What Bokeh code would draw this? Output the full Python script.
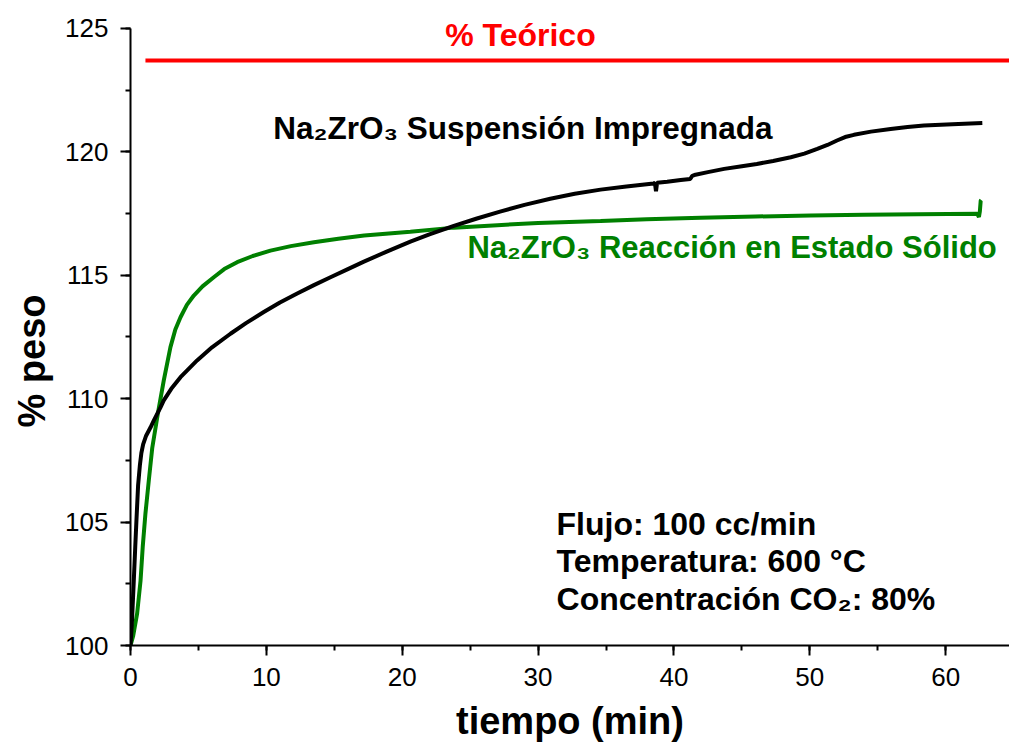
from bokeh.plotting import figure
from bokeh.models import Range1d, SingleIntervalTicker, Label, Title
from bokeh.embed import file_html
from bokeh.resources import INLINE

# ---- data ----
t_black = [0, 0.1, 0.24, 0.35, 0.44, 0.56, 0.69, 0.8, 0.93, 1.15, 1.47, 1.72, 2.2, 2.45, 3.0,
           3.68, 4.3, 4.9, 6.0, 7.36, 8.5, 9.81, 11.0, 12.27, 13.5, 14.72, 16.0, 17.18, 18.9,
           20.6, 22.0, 23.8, 25.5, 27.2, 29.0, 30.9, 32.7, 34.6, 36.5, 38.5, 38.6, 38.68, 38.76,
           39.5, 40.5, 41.2, 41.35, 41.5, 42.5, 43.7, 45.0, 46.1, 47.3, 48.6, 49.6, 50.55, 51.3,
           52.0, 52.6, 53.25, 54.5, 55.95, 57.2, 58.4, 60.5, 62.7]
w_black = [100, 100.9, 102.6, 104.0, 105.1, 106.5, 107.3, 107.8, 108.15, 108.5, 108.83, 109.12,
           109.64, 109.93, 110.4, 110.87, 111.22, 111.55, 112.08, 112.63, 113.06, 113.51, 113.9,
           114.26, 114.6, 114.92, 115.25, 115.55, 115.97, 116.36, 116.66, 117.0, 117.3, 117.58,
           117.85, 118.1, 118.3, 118.47, 118.6, 118.72, 118.74, 118.4, 118.75, 118.79, 118.86,
           118.9, 119.03, 119.06, 119.18, 119.31, 119.42, 119.51, 119.63, 119.78, 119.93, 120.12,
           120.28, 120.46, 120.6, 120.69, 120.82, 120.93, 121.01, 121.07, 121.12, 121.17]

t_green = [0, 0.2, 0.49, 0.74, 0.9, 1.1, 1.35, 1.6, 2.0, 2.45, 2.94, 3.3, 3.68, 4.15, 4.66, 5.3,
           6.13, 6.9, 7.85, 9.0, 10.3, 11.8, 13.5, 15.3, 17.2, 20.6, 23.8, 27.0, 30.0, 34.6, 38.0,
           41.96, 46.0, 50.06, 54.0, 58.0, 62.33, 62.45, 62.52, 62.58, 62.62]
w_green = [100, 100.4, 101.3, 102.63, 104.0, 105.35, 106.7, 108.0, 109.35, 110.74, 112.09, 112.8,
           113.3, 113.8, 114.18, 114.55, 114.92, 115.25, 115.53, 115.78, 116.0, 116.18, 116.34,
           116.48, 116.61, 116.76, 116.93, 117.03, 117.12, 117.2, 117.27, 117.33, 117.38, 117.42,
           117.45, 117.47, 117.49, 117.36, 117.6, 118.02, 118.05]

t_theoretical = [1.1, 66.0]
w_theoretical = [123.7, 123.7]

x_ticks_interval = 10
y_ticks_interval = 5

FONT = "Liberation Sans"

p = figure(width=1009, height=744, x_range=Range1d(0, 64.7), y_range=Range1d(100, 125.97),
           output_backend="svg", toolbar_location=None,
           min_border_left=130, min_border_right=0, min_border_top=4, min_border_bottom=99)
p.outline_line_color = None
p.xgrid.visible = False
p.ygrid.visible = False
p.background_fill_color = "white"
p.border_fill_color = "white"

p.xaxis.ticker = SingleIntervalTicker(interval=x_ticks_interval, num_minor_ticks=2)
p.yaxis.ticker = SingleIntervalTicker(interval=y_ticks_interval, num_minor_ticks=2)
p.yaxis.bounds = (100, 125)
for ax in (p.xaxis, p.yaxis):
    ax.axis_line_width = 2
    ax.axis_line_color = "black"
    ax.major_tick_line_width = 2
    ax.minor_tick_line_width = 2
    ax.major_tick_line_color = "black"
    ax.minor_tick_line_color = "black"
    ax.major_tick_in = 0
    ax.major_tick_out = 10
    ax.minor_tick_in = 0
    ax.minor_tick_out = 5
    ax.major_label_text_font = FONT
    ax.major_label_text_font_size = "26px"
    ax.major_label_text_color = "black"
    ax.axis_label_text_font = FONT
    ax.axis_label_text_font_size = "38px"
    ax.axis_label_text_font_style = "bold"
    ax.axis_label_text_color = "black"

p.xaxis.major_label_standoff = 12
p.yaxis.major_label_standoff = 12
p.xaxis.axis_label = "tiempo (min)"
p.xaxis.axis_label_standoff = 11

# y-axis title as a side Title so it can be shifted along the axis
p.add_layout(Title(text="% peso", align="left", offset=218, standoff=16, vertical_align="top",
                   text_font=FONT, text_font_size="38px", text_font_style="bold",
                   text_color="black"), "left")

p.line(t_theoretical, w_theoretical, line_color="#ff0000", line_width=4)
p.line(t_green, w_green, line_color="#008000", line_width=4)
p.line(t_black, w_black, line_color="black", line_width=4)

def lab(x, y, text, color="black", size="32px", align="left", **kw):
    p.add_layout(Label(x=x, y=y, text=text, text_color=color, text_font=FONT,
                       text_font_size=size, text_font_style="bold", text_align=align,
                       text_baseline="middle", **kw))

lab(28.7, 124.72, "% Teórico", color="#ff0000", align="center")
lab(10.5, 120.95, "Na₂ZrO₃ Suspensión Impregnada", size="31.5px")
lab(24.8, 116.13, "Na₂ZrO₃ Reacción en Estado Sólido", color="#008000", size="31px")
lab(31.36, 104.94, "Flujo: 100 cc/min")
lab(31.36, 103.44, "Temperatura: 600 °C")
lab(31.36, 101.9, "Concentración CO₂: 80%")

open("out.html", "w").write(file_html(p, INLINE))
